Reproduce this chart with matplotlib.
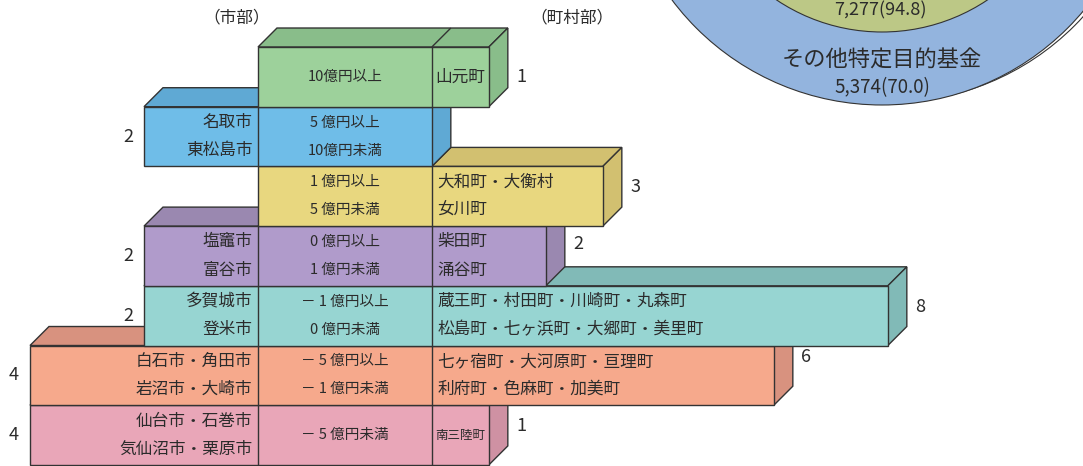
import matplotlib
matplotlib.use("Agg")
import matplotlib.pyplot as plt
from matplotlib.patches import Polygon, Circle

plt.rcParams['font.family'] = ['Noto Sans CJK JP', 'DejaVu Sans']

# rows from top (largest) to bottom
level_top = ['10億円以上', '5 億円以上', '1 億円以上', '0 億円以上',
             '－ 1 億円以上', '－ 5 億円以上', '－ 5 億円未満']
level_bottom = ['', '10億円未満', '5 億円未満', '1 億円未満',
                '0 億円未満', '－ 1 億円未満', '']
city_names = [[], ['名取市', '東松島市'], [], ['塩竈市', '富谷市'],
              ['多賀城市', '登米市'], ['白石市・角田市', '岩沼市・大崎市'],
              ['仙台市・石巻市', '気仙沼市・栗原市']]
town_names = [['山元町'], [], ['大和町・大衡村', '女川町'], ['柴田町', '涌谷町'],
              ['蔵王町・村田町・川崎町・丸森町', '松島町・七ヶ浜町・大郷町・美里町'],
              ['七ヶ宿町・大河原町・亘理町', '利府町・色麻町・加美町'],
              ['南三陸町']]
city_counts = [0, 2, 0, 2, 2, 4, 4]
town_counts = [1, 0, 3, 2, 8, 6, 1]

# the cut-off donut in the upper right
fund_labels = ['その他特定目的基金']
fund_values = ['7,277(94.8)', '5,374(70.0)']

front_colors = ['#9dd19b', '#6fbde8', '#e8d77f', '#b09bcb', '#97d5d2', '#f6a98c', '#e9a6b8']
back_colors = ['#89bd8a', '#5fa9d4', '#d2c070', '#9a88b0', '#81bab7', '#d8927f', '#cf91a3']
edge = '#333333'
txt = '#2b2b2b'

W = 3.05            # width of the middle column, in municipality units
DX, DY = 0.333, 0.318  # depth of the boxes
num_dy = [0, 0, -0.15, -0.2, -0.15, -0.3, -0.15]

fig = plt.figure(figsize=(10.83, 4.66), dpi=100)
ax = fig.add_axes([0, 0, 1, 1])
ax.set_xlim(-258 / 57, (1083 - 258) / 57)
ax.set_ylim((466 - 47) / 59.7, -47 / 59.7)
ax.axis('off')

n = len(level_top)
for i in reversed(range(n)):
    z = 10 + (n - 1 - i) * 4
    left = -city_counts[i]
    right = W + town_counts[i]
    top, bot = i, i + 1
    # top face
    ax.add_patch(Polygon([(left, top), (left + DX, top - DY), (right + DX, top - DY), (right, top)],
                         closed=True, fc=back_colors[i], ec=edge, lw=1, zorder=z))
    for xd in (0, W):
        if left < xd < right:
            ax.add_patch(Polygon([(xd, top), (xd + DX, top - DY)], closed=False, fill=False,
                                 ec=edge, lw=1, zorder=z))
    # side face
    ax.add_patch(Polygon([(right, top), (right + DX, top - DY), (right + DX, bot - DY), (right, bot)],
                         closed=True, fc=back_colors[i], ec=edge, lw=1, zorder=z))
    # front face
    ax.add_patch(Polygon([(left, top), (right, top), (right, bot), (left, bot)],
                         closed=True, fc=front_colors[i], ec=edge, lw=1, zorder=z + 1))
    for xd in (0, W):
        if left < xd < right:
            ax.add_patch(Polygon([(xd, top), (xd, bot)], closed=False, fill=False,
                                 ec=edge, lw=1, zorder=z + 2))

    yc = i + 0.5
    # middle column
    if level_bottom[i]:
        ax.text(W / 2, yc - 0.235, level_top[i], ha='center', va='center', fontsize=10.5, color=txt, zorder=z + 3)
        ax.text(W / 2, yc + 0.235, level_bottom[i], ha='center', va='center', fontsize=10.5, color=txt, zorder=z + 3)
    else:
        ax.text(W / 2, yc, level_top[i], ha='center', va='center', fontsize=10.5, color=txt, zorder=z + 3)
    # cities
    names = city_names[i]
    for k, nm in enumerate(names):
        yy = yc + (k - (len(names) - 1) / 2) * 0.47
        ax.text(-0.1, yy, nm, ha='right', va='center', fontsize=12, color=txt, zorder=z + 3)
    if city_counts[i]:
        ax.text(left - 0.28, yc, str(city_counts[i]), ha='center', va='center', fontsize=13, color=txt)
    # towns
    names = town_names[i]
    if town_counts[i] == 1:
        fs = 9 if len(names[0]) > 3 else 12
        ax.text(W + 0.5, yc, names[0], ha='center', va='center', fontsize=fs, color=txt, zorder=z + 3)
    else:
        for k, nm in enumerate(names):
            yy = yc + (k - (len(names) - 1) / 2) * 0.47
            ax.text(W + 0.1, yy, nm, ha='left', va='center', fontsize=12, color=txt, zorder=z + 3)
    if town_counts[i]:
        ax.text(right + DX + 0.15, yc + num_dy[i], str(town_counts[i]), ha='left', va='center',
                fontsize=13, color=txt)

ax.text(-0.37, -0.49, '（市部）', ha='center', va='center', fontsize=12, color=txt)
ax.text(5.51, -0.49, '（町村部）', ha='center', va='center', fontsize=12, color=txt)

# donut piece, drawn in pixel coordinates
ax2 = fig.add_axes([0, 0, 1, 1], zorder=-1)
ax2.set_xlim(0, 1083)
ax2.set_ylim(466, 0)
ax2.set_aspect('equal')
ax2.axis('off')
ax2.add_patch(Circle((889, -160), 262.5, fc='none', ec=edge, lw=0.8))
ax2.add_patch(Circle((882, -157.5), 262.5, fc='#93b4de', ec=edge, lw=0.8))
ax2.add_patch(Circle((882, -157.5), 189.5, fc='#bcc886', ec=edge, lw=0.8))
ax2.text(880, 10, fund_values[0], ha='center', va='center', fontsize=13, color=txt)
ax2.text(882, 60, fund_labels[0], ha='center', va='center', fontsize=16, color=txt)
ax2.text(882, 88, fund_values[1], ha='center', va='center', fontsize=13.5, color=txt)

fig.savefig('out.png', dpi=100)
